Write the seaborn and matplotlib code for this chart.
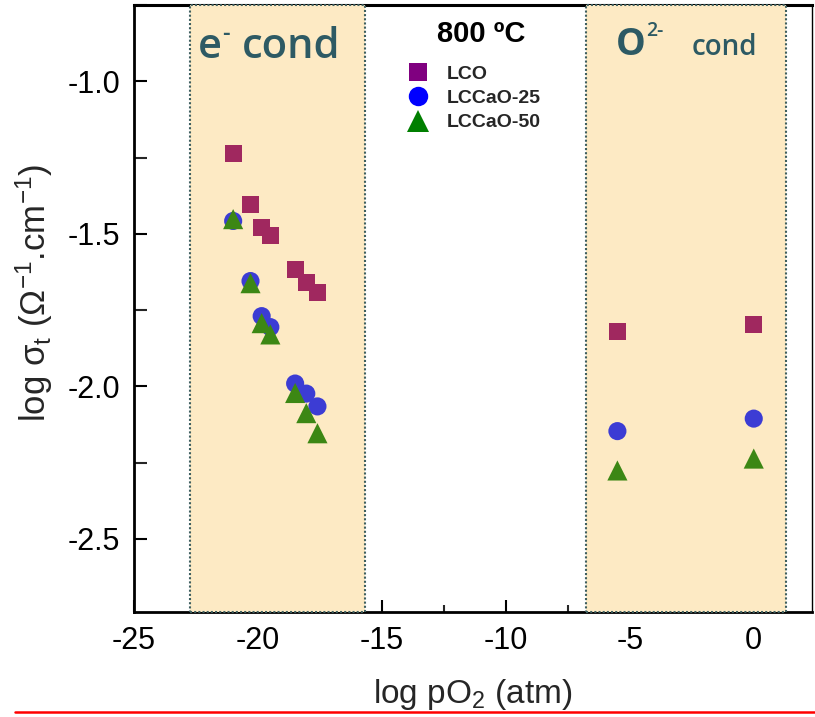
import numpy as np
import pandas as pd
import matplotlib
matplotlib.use("Agg")
import matplotlib.pyplot as plt
import seaborn as sns
from matplotlib.lines import Line2D
from matplotlib.ticker import MultipleLocator, FormatStrFormatter

# ---------------- data ----------------
log_po2 = [-21.0, -20.3, -19.85, -19.5, -18.5, -18.05, -17.6, -5.5, 0.0]
lco = [-1.237, -1.404, -1.481, -1.506, -1.617, -1.659, -1.691, -1.819, -1.798]
lccao25 = [-1.458, -1.655, -1.770, -1.806, -1.991, -2.024, -2.066, -2.147, -2.106]
lccao50 = [-1.452, -1.662, -1.793, -1.830, -2.022, -2.088, -2.154, -2.276, -2.237]
sample_names = ["LCO", "LCCaO-25", "LCCaO-50"]
e_region = (-22.75, -15.7)
o_region = (-6.75, 1.3)
x_ticks = [-25, -20, -15, -10, -5, 0]
y_ticks = [-2.5, -2.0, -1.5, -1.0]

df = pd.DataFrame({
    "log_pO2": log_po2 * 3,
    "log_sigma": lco + lccao25 + lccao50,
    "sample": np.repeat(sample_names, len(log_po2)),
})

# ---------------- style ----------------
sns.set_style("ticks")
plt.rcParams["font.family"] = ["Liberation Sans", "DejaVu Sans"]
plt.rcParams["mathtext.fontset"] = "custom"
plt.rcParams["mathtext.rm"] = "Liberation Sans"
plt.rcParams["mathtext.it"] = "Liberation Sans"
plt.rcParams["mathtext.bf"] = "Liberation Sans:bold"
plt.rcParams["axes.unicode_minus"] = False

W, H = 815, 717
fig = plt.figure(figsize=(W / 100, H / 100), dpi=100)
ax = fig.add_axes([134 / W, 1 - 612 / H, (812 - 134) / W, (612 - 5) / H])

# shaded regions
for a, b in (e_region, o_region):
    ax.axvspan(a, b, facecolor="#FDEAC4", edgecolor="#3F5F5F",
               linestyle=(0, (1, 1)), lw=1.5, zorder=2, clip_on=False)

data_colors = {"LCO": "#A0285F", "LCCaO-25": "#3C3CD4", "LCCaO-50": "#3C8714"}
markers = {"LCO": "s", "LCCaO-25": "o", "LCCaO-50": "^"}
sizes = {"LCO": 150, "LCCaO-25": 170, "LCCaO-50": 210}

sns.scatterplot(data=df, x="log_pO2", y="log_sigma", hue="sample", style="sample",
                size="sample", sizes=sizes, markers=markers, palette=data_colors,
                edgecolor="none", linewidth=0, legend=False, ax=ax, zorder=3)

ax.set_xlim(-25, 2.35)
ax.set_ylim(-2.74, -0.75)
ax.set_xticks(x_ticks)
ax.xaxis.set_minor_locator(MultipleLocator(2.5))
ax.set_yticks(y_ticks)
ax.yaxis.set_minor_locator(MultipleLocator(0.25))
ax.xaxis.set_major_formatter(FormatStrFormatter("%d"))
ax.yaxis.set_major_formatter(FormatStrFormatter("%.1f"))
ax.tick_params(which="major", direction="in", length=9, width=1.5, labelsize=22, pad=10,
               colors="black")
ax.tick_params(axis="x", which="minor", direction="in", length=5, width=1.5)
ax.tick_params(axis="y", which="minor", direction="in", length=9, width=1.5)

for name, sp in ax.spines.items():
    sp.set_zorder(1)
    sp.set_color("black")
    sp.set_visible(True)
ax.spines["left"].set_linewidth(2)
ax.spines["bottom"].set_linewidth(2)
ax.spines["top"].set_linewidth(2.2)
ax.spines["right"].set_linewidth(1)

ax.set_xlabel(r"log pO$_2$ (atm)", fontsize=24, labelpad=15)
ax.set_ylabel(r"log σ$_{t}$ (Ω$^{-1}$.cm$^{-1}$)", fontsize=25)
ax.yaxis.set_label_coords(-0.117, 0.525)

# legend
legend_colors = {"LCO": "#800080", "LCCaO-25": "#0000FF", "LCCaO-50": "#007F00"}
legend_ms = {"LCO": 13.5, "LCCaO-25": 14, "LCCaO-50": 16}
handles = [Line2D([], [], ls="", marker=markers[n], color=legend_colors[n],
                  markersize=legend_ms[n], markeredgewidth=0) for n in sample_names]
ax.legend(handles, sample_names, loc="upper left",
          bbox_to_anchor=(408 / W, 1 - 65 / H), bbox_transform=fig.transFigure,
          frameon=False, prop={"weight": "bold", "size": 14}, handlelength=1.0,
          handletextpad=1.0, labelspacing=0.35, borderpad=0, borderaxespad=0)

# annotations
teal = "#2D5A64"
fig.text(198 / W, 1 - 58 / H, "e", fontsize=30, color=teal, family="Open Sans",
         weight="semibold", va="baseline", ha="left")
fig.text(222 / W, 1 - 40 / H, "-", fontsize=17, color=teal, family="Open Sans",
         weight="semibold", va="baseline", ha="left")
fig.text(242 / W, 1 - 58 / H, "cond", fontsize=30, color=teal, family="Open Sans",
         weight="semibold", va="baseline", ha="left")

fig.text(616 / W, 1 - 55 / H, "O", fontsize=27, color=teal, family="Open Sans",
         weight="bold", va="baseline", ha="left")
fig.text(646 / W, 1 - 36 / H, "2-", fontsize=14, color=teal, family="Open Sans",
         weight="semibold", va="baseline", ha="left")
fig.text(692 / W, 1 - 55 / H, "cond", fontsize=20, color=teal, family="Open Sans",
         weight="semibold", va="baseline", ha="left")

fig.text(481 / W, 1 - 42 / H, "800 ºC", fontsize=21, color="black", weight="bold",
         va="baseline", ha="center")

# red rule at the bottom of the image
fig.add_artist(Line2D([15 / W, 1.0], [1 - 712 / H, 1 - 712 / H], color="red", lw=1.8))

fig.savefig("out.png", dpi=100)
